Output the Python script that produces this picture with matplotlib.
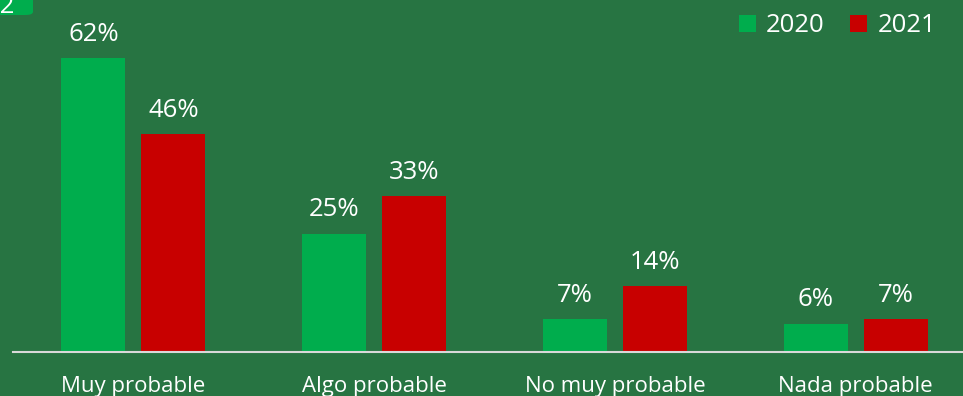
import matplotlib.pyplot as plt
import numpy as np
from matplotlib.patches import FancyBboxPatch

# Datos de la encuesta
categorias = ["Muy probable", "Algo probable", "No muy probable", "Nada probable"]
valores_2020 = [62, 25, 7, 6]
valores_2021 = [46, 33, 14, 7]
series = ["2020", "2021"]

fondo = "#277442"
verde = "#00AD4D"
rojo = "#C80000"

plt.rcParams['font.family'] = ['Open Sans', 'DejaVu Sans']

fig = plt.figure(figsize=(9.63, 3.96), dpi=100, facecolor=fondo)
ax = fig.add_axes([13 / 963, 1 - 352 / 396, 950 / 963, 352 / 396])
ax.set_facecolor(fondo)

x = np.arange(len(categorias))
ancho = 0.266
desp = 0.166

b1 = ax.bar(x - desp, valores_2020, ancho, color=verde, label=series[0])
b2 = ax.bar(x + desp, valores_2021, ancho, color=rojo, label=series[1])

# Etiquetas de valor encima de cada barra
for barras in (b1, b2):
    for b in barras:
        ax.annotate(f"{b.get_height():.0f}%",
                    (b.get_x() + b.get_width() / 2, b.get_height()),
                    xytext=(0, 8), textcoords="offset points",
                    ha="center", va="bottom", color="white", fontsize=18.5)

ax.set_xlim(-0.5, 3.446)
ax.set_ylim(0, 74.3)
ax.set_xticks(x)
ax.set_xticklabels(categorias, color="white", fontsize=16)
ax.tick_params(axis="x", length=0, pad=17)
ax.set_yticks([])
for lado in ("top", "right", "left"):
    ax.spines[lado].set_visible(False)
ax.spines["bottom"].set_color("#D9D9D9")
ax.spines["bottom"].set_linewidth(1.5)

leg = fig.legend(handles=[b1, b2], labels=series, loc="upper right",
                 bbox_to_anchor=(0.996, 1.025), ncol=2, frameon=False,
                 fontsize=18.5, handlelength=0.65, handleheight=0.65,
                 handletextpad=0.4, columnspacing=1.0, labelcolor="white")

# Recuadro de la esquina superior izquierda
caja = FancyBboxPatch((-0.02, 1 - 15 / 396), 0.02 + 33 / 963, 0.06,
                      transform=fig.transFigure,
                      boxstyle="round,pad=0,rounding_size=0.008",
                      facecolor=verde, edgecolor="none")
fig.patches.append(caja)
fig.text(15 / 963, 1 - 13 / 396, "02", color="white", fontsize=18.5,
         ha="right", va="baseline")

fig.savefig("out.png", dpi=100, facecolor=fondo)
